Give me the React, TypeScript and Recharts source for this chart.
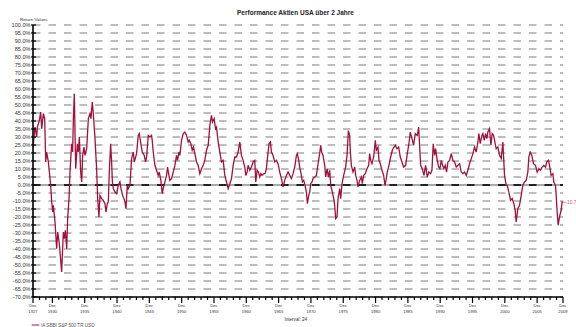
import { CartesianGrid, LabelList, Line, LineChart, ReferenceLine, XAxis, YAxis } from "recharts";

const TITLE = "Performance Aktien USA über 2 Jahre";
const SERIES_NAME = "IA SBBI S&P 500 TR USD";
const Y_AXIS_TITLE = "Return Values";
const X_AXIS_TITLE = "Interval: 24";

// month-end dates as decimal years (Dec of a year = .92)
const DATES = [
  1927.92, 1928.23, 1928.49, 1928.59, 1928.9, 1929.11, 1929.26, 1929.52, 1929.73, 1929.88,
  1930.04, 1930.29, 1930.45, 1930.65, 1930.81, 1930.96, 1931.07, 1931.32, 1931.58, 1931.74,
  1931.99, 1932.35, 1932.61, 1932.77, 1932.92, 1933.13, 1933.28, 1933.49, 1933.64, 1933.9,
  1934.05, 1934.16, 1934.31, 1934.52, 1934.78, 1934.93, 1935.09, 1935.29, 1935.45, 1935.6,
  1935.81, 1935.96, 1936.22, 1936.48, 1936.73, 1936.89, 1937.09, 1937.25, 1937.51, 1937.76,
  1937.92, 1938.12, 1938.28, 1938.54, 1938.79, 1939.05, 1939.21, 1939.41, 1939.57, 1939.72,
  1939.93, 1940.08, 1940.2, 1940.34, 1940.6, 1940.86, 1941.11, 1941.37, 1941.53, 1941.78,
  1941.99, 1942.14, 1942.3, 1942.5, 1942.66, 1942.92, 1943.17, 1943.43, 1943.59, 1943.94,
  1944.2, 1944.36, 1944.61, 1944.82, 1945.13, 1945.33, 1945.49, 1945.75, 1946.0, 1946.26,
  1946.36, 1946.52, 1946.78, 1947.03, 1947.29, 1947.45, 1947.7, 1947.91, 1948.06, 1948.32,
  1948.58, 1948.73, 1948.94, 1949.09, 1949.35, 1949.61, 1949.87, 1950.12, 1950.28, 1950.49,
  1950.64, 1950.9, 1951.16, 1951.41, 1951.67, 1951.93, 1952.08, 1952.34, 1952.55, 1952.75,
  1952.96, 1953.22, 1953.47, 1953.73, 1953.99, 1954.25, 1954.5, 1954.76, 1955.02, 1955.28,
  1955.53, 1955.69, 1955.95, 1956.15, 1956.31, 1956.56, 1956.82, 1957.08, 1957.34, 1957.59,
  1957.85, 1958.11, 1958.37, 1958.63, 1958.88, 1959.14, 1959.4, 1959.66, 1959.91, 1960.17,
  1960.43, 1960.68, 1960.84, 1961.04, 1961.2, 1961.46, 1961.71, 1961.97, 1962.23, 1962.38,
  1962.59, 1962.79, 1963.0, 1963.16, 1963.36, 1963.62, 1963.83, 1964.03, 1964.29, 1964.44,
  1964.65, 1964.8, 1965.06, 1965.32, 1965.58, 1965.83, 1966.09, 1966.35, 1966.61, 1966.86,
  1967.12, 1967.38, 1967.64, 1967.9, 1968.15, 1968.41, 1968.67, 1968.82, 1969.03, 1969.18,
  1969.44, 1969.6, 1969.8, 1970.01, 1970.21, 1970.37, 1970.57, 1970.73, 1970.88, 1971.09,
  1971.24, 1971.5, 1971.76, 1972.02, 1972.27, 1972.43, 1972.58, 1972.79, 1973.05, 1973.2,
  1973.41, 1973.61, 1973.82, 1973.98, 1974.23, 1974.44, 1974.59, 1974.75, 1974.95, 1975.11,
  1975.37, 1975.52, 1975.73, 1975.98, 1976.29, 1976.5, 1976.71, 1976.91, 1977.02, 1977.17,
  1977.43, 1977.69, 1977.84, 1978.05, 1978.2, 1978.46, 1978.72, 1978.87, 1979.08, 1979.33,
  1979.59, 1979.85, 1980.0, 1980.16, 1980.36, 1980.62, 1980.88, 1981.03, 1981.29, 1981.45,
  1981.65, 1981.91, 1982.17, 1982.37, 1982.58, 1982.73, 1982.99, 1983.25, 1983.51, 1983.76,
  1983.97, 1984.23, 1984.49, 1984.74, 1985.0, 1985.26, 1985.57, 1985.83, 1986.08, 1986.29,
  1986.55, 1986.8, 1987.06, 1987.37, 1987.58, 1987.73, 1987.89, 1988.14, 1988.4, 1988.66,
  1988.92, 1989.17, 1989.43, 1989.64, 1989.84, 1990.05, 1990.21, 1990.46, 1990.67, 1990.87,
  1991.08, 1991.29, 1991.49, 1991.7, 1991.9, 1992.11, 1992.37, 1992.63, 1992.88, 1993.14,
  1993.4, 1993.66, 1993.92, 1994.17, 1994.43, 1994.69, 1994.95, 1995.2, 1995.46, 1995.72,
  1995.98, 1996.23, 1996.49, 1996.75, 1996.9, 1997.11, 1997.37, 1997.52, 1997.73, 1997.93,
  1998.14, 1998.29, 1998.55, 1998.76, 1998.96, 1999.17, 1999.33, 1999.58, 1999.84, 2000.1,
  2000.36, 2000.61, 2000.87, 2001.13, 2001.28, 2001.54, 2001.8, 2002.06, 2002.31, 2002.52,
  2002.67, 2002.93, 2003.19, 2003.45, 2003.7, 2003.96, 2004.22, 2004.48, 2004.63, 2004.84,
  2005.1, 2005.35, 2005.66, 2005.92, 2006.18, 2006.43, 2006.69, 2006.95, 2007.21, 2007.41,
  2007.67, 2007.83, 2008.08, 2008.34, 2008.5, 2008.75, 2008.86, 2009.01, 2009.17, 2009.37,
  2009.63, 2009.78, 2009.92,
];

// rolling 2-year return in %
const RETURNS = [
  23.7, 36.2, 30.0, 36.2, 40.4, 45.6, 35.2, 44.6, 41.5, 14.4,
  20.6, 14.4, 8.1, -0.2, -10.6, -16.9, -12.7, -23.1, -39.8, -29.4,
  -36.7, -54.4, -29.4, -33.5, -28.3, -39.8, -21.0, -8.5, 8.1, 25.8,
  20.6, 41.5, 57.1, 10.2, 25.8, 20.6, 30.0, 8.1, 1.9, 18.5,
  23.7, 18.5, 22.7, 41.5, 44.6, 41.5, 51.9, 44.6, 29.0, 10.2,
  -8.5, -20.0, -6.5, -8.5, -9.6, -11.7, -16.9, -11.7, -10.6, 8.1,
  25.8, 14.4, 2.0, -2.3, -4.4, -5.4, -0.2, 1.9, -2.3, -6.5,
  -8.5, -10.6, -14.8, -0.2, -2.3, -0.2, 16.5, 20.6, 14.4, 19.6,
  31.0, 32.1, 25.8, 20.6, 18.5, 14.4, 17.5, 31.0, 30.0, 31.0,
  28.0, 20.6, 12.3, 9.2, 6.0, 8.1, 2.9, -5.4, -2.3, 1.9,
  6.0, 11.2, 6.0, 2.9, 4.0, 8.1, 12.3, 18.5, 15.4, 20.6,
  18.5, 28.0, 32.1, 33.1, 31.0, 26.9, 28.0, 25.8, 21.7, 23.7,
  19.6, 14.4, 12.3, 7.1, 10.2, 12.3, 15.4, 21.7, 24.8, 37.3,
  43.5, 39.4, 41.5, 35.2, 36.2, 26.9, 20.6, 14.4, 15.4, 6.0,
  1.9, -2.3, 0.8, 4.0, 12.3, 17.5, 17.5, 20.6, 26.9, 18.5,
  15.4, 11.2, 6.0, 8.1, 12.3, 9.2, 11.2, 14.4, 15.4, 1.9,
  9.2, 8.1, 5.0, 7.1, 6.0, 7.1, 7.1, 10.2, 20.6, 25.8,
  26.9, 20.6, 18.5, 14.4, 15.4, 13.3, 8.1, 4.0, -1.2, 2.9,
  6.0, 8.1, 6.0, 4.0, 7.1, 11.2, 18.5, 19.6, 15.4, 11.2,
  6.0, 1.9, 2.9, -0.2, -4.4, -11.7, -6.5, -4.4, 0.8, 1.9,
  4.0, 5.0, 6.0, 13.3, 19.6, 24.8, 20.6, 18.5, 12.3, 5.0,
  10.2, 5.0, 9.2, -0.2, -4.4, -8.5, -12.7, -21.0, -20.0, -8.5,
  -2.3, -8.5, 0.8, 6.0, 11.2, 18.5, 34.0, 31.0, 20.6, 12.3,
  8.1, 11.2, 6.0, 2.9, -1.2, 2.9, 5.0, 0.8, 6.0, 7.1,
  10.2, 12.3, 19.6, 15.4, 13.3, 17.5, 27.9, 21.7, 23.7, 15.4,
  13.3, 9.2, 6.0, -0.2, 4.0, 8.1, 12.3, 17.5, 21.7, 23.7,
  24.8, 22.7, 23.7, 17.5, 14.4, 11.2, 12.3, 19.6, 25.8, 33.1,
  29.0, 24.8, 32.1, 31.0, 36.2, 24.8, 12.3, 10.2, 6.0, 12.3,
  5.0, 8.1, 7.1, 9.2, 25.8, 18.5, 22.7, 15.4, 11.2, 10.2,
  15.4, 12.3, 10.2, 12.3, 8.1, 14.4, 15.4, 19.6, 15.4, 14.4,
  11.2, 12.3, 13.3, 8.1, 7.1, 8.1, 6.0, 9.2, 13.3, 16.5,
  19.6, 23.7, 20.6, 26.9, 32.1, 25.8, 31.0, 32.1, 27.9, 32.1,
  29.0, 33.1, 35.2, 24.8, 32.1, 31.0, 27.9, 22.7, 23.7, 18.5,
  16.5, 26.9, 6.0, -0.2, -0.2, -4.4, -9.6, -8.5, -11.7, -15.8,
  -23.1, -14.8, -12.7, -6.5, -0.2, 1.9, 2.9, 8.1, 17.5, 20.6,
  18.5, 13.3, 12.3, 8.1, 10.2, 9.2, 11.2, 12.3, 11.2, 14.4,
  15.4, 12.3, 6.0, 7.1, 1.9, -0.2, -6.5, -16.9, -25.2, -20.0,
  -15.8, -10.6, -10.7,
];

const Y_TICKS = [
  100, 95, 90, 85, 80, 75, 70, 65, 60, 55, 50, 45, 40, 35, 30, 25, 20, 15, 10, 5, 0,
  -5, -10, -15, -20, -25, -30, -35, -40, -45, -50, -55, -60, -65, -70,
];
const X_LABEL_YEARS = [
  1927, 1930, 1935, 1940, 1945, 1950, 1955, 1960, 1965, 1970, 1975, 1980, 1985, 1990,
  1995, 2000, 2005, 2009,
];

const DEC = 11 / 12;
const FIRST_YEAR = 1927;
const LAST_YEAR = 2009;
// one tick per December, labels only on X_LABEL_YEARS
const X_TICKS = Array.from({ length: LAST_YEAR - FIRST_YEAR + 1 }, (_, i) => FIRST_YEAR + i + DEC);

const FONT = "'Liberation Sans', Arial, sans-serif";
const LINE_COLOR = "#a3103d";

const data = DATES.map((t, i) => ({ t, v: RETURNS[i] }));

function XTick(props: any) {
  const { x, y, payload } = props;
  const year = Math.round(payload.value - DEC);
  const major = X_LABEL_YEARS.includes(year);
  return (
    <g>
      <line x1={x} x2={x} y1={y} y2={y + (major ? 6 : 3)} stroke="#000" strokeWidth={1.2} />
      {major && (
        <text x={x} y={y + 9.8} textAnchor="middle" fontSize={4.2} fill="#333" fontFamily={FONT}>
          <tspan x={x}>Dec</tspan>
          <tspan x={x} dy={6.2}>
            {year}
          </tspan>
        </text>
      )}
    </g>
  );
}

function YTick(props: any) {
  const { x, y, payload } = props;
  return (
    <g>
      <line x1={x - 2} x2={x + 3} y1={y} y2={y} stroke="#000" strokeWidth={1.2} />
      <text x={x - 2.5} y={y + 2} textAnchor="end" fontSize={5.6} fill="#333" fontFamily={FONT}>
        {payload.value.toFixed(1)}%
      </text>
    </g>
  );
}

function EndLabel(props: any) {
  const { x, y, value, index } = props;
  if (index !== DATES.length - 1) return null;
  return (
    <g>
      <line x1={x} x2={x + 2.5} y1={y} y2={y} stroke="#c8587a" strokeWidth={0.8} />
      <text x={x + 2.5} y={y + 1.7} fontSize={4.8} fill="#c8587a" fontFamily={FONT}>
        {Number(value).toFixed(1)}
      </text>
    </g>
  );
}

export default function App() {
  return (
    <div style={{ position: "absolute", left: 0, top: 0, width: 576, height: 327, background: "#fff", overflow: "hidden" }}>
      <LineChart width={576} height={327} data={data} margin={{ top: 25, right: 13, bottom: 0, left: 0 }}>
        <CartesianGrid vertical={false} stroke="#a8a8a8" strokeWidth={1.3} strokeDasharray="7.5 8" />
        <XAxis
          dataKey="t"
          type="number"
          domain={[FIRST_YEAR + DEC, LAST_YEAR + DEC]}
          ticks={X_TICKS}
          interval={0}
          height={30}
          tickSize={0}
          tickMargin={0}
          tickLine={false}
          axisLine={{ stroke: "#000", strokeWidth: 1.6 }}
          tick={(p: any) => <XTick {...p} />}
          allowDataOverflow
        />
        <YAxis
          type="number"
          domain={[-70, 100]}
          ticks={Y_TICKS}
          interval={0}
          width={33}
          tickSize={0}
          tickMargin={0}
          tickLine={false}
          axisLine={{ stroke: "#000", strokeWidth: 1.6 }}
          tick={(p: any) => <YTick {...p} />}
          allowDataOverflow
        />
        <ReferenceLine y={0} stroke="#555" strokeWidth={1.1} />
        <ReferenceLine y={0} stroke="#000" strokeWidth={1.4} strokeDasharray="7.5 8" />
        <Line
          dataKey="v"
          stroke={LINE_COLOR}
          strokeWidth={1.3}
          dot={false}
          isAnimationActive={false}
        >
          <LabelList dataKey="v" content={(p: any) => <EndLabel {...p} />} />
        </Line>
      </LineChart>
      <svg width={576} height={327} style={{ position: "absolute", left: 0, top: 0, pointerEvents: "none" }}>
        <text x={295.5} y={14.8} textAnchor="middle" fontSize={6.5} fontWeight="bold" fill="#222" fontFamily={FONT}>
          {TITLE}
        </text>
        <text x={20} y={20.8} fontSize={4.4} fill="#333" fontFamily={FONT}>
          {Y_AXIS_TITLE}
        </text>
        <text x={295.8} y={320.6} textAnchor="middle" fontSize={4.6} fill="#333" fontFamily={FONT}>
          {X_AXIS_TITLE}
        </text>
        <line x1={31.7} x2={39.3} y1={325} y2={325} stroke={LINE_COLOR} strokeWidth={1} />
        <text x={41} y={326.6} fontSize={4.6} fill="#555" fontFamily={FONT}>
          {SERIES_NAME}
        </text>
      </svg>
    </div>
  );
}
